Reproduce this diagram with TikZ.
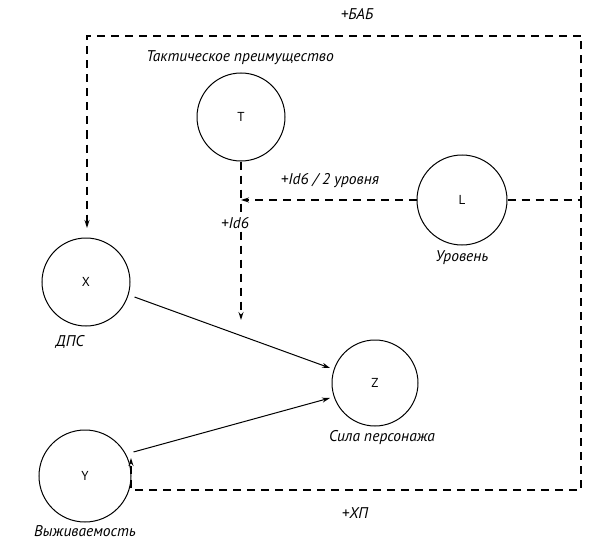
\documentclass[tikz,border=0pt]{standalone}
\usepackage{fontspec}
\setmainfont{PT Sans}
\usetikzlibrary{arrows.meta}
\tikzset{
  circ/.style={draw, circle, minimum size=88pt, inner sep=0pt, line width=1pt, font=\fontsize{13}{15}\selectfont},
  lbl/.style={font=\itshape\fontsize{15.5}{18}\selectfont, inner sep=1pt},
  dsh/.style={draw, line width=1.1pt, dash pattern=on 8pt off 6pt},
  arr/.style={-{Stealth[length=8pt,width=5pt]}},
  sol/.style={draw, line width=1pt}
}
\begin{document}
\begin{tikzpicture}[x=1pt,y=-1pt]
\useasboundingbox (0,0) rectangle (600,551);
\node[circ] (T) at (241,117) {T};
\node[circ, minimum size=90pt] (L) at (462,200) {L};
\node[circ] (X) at (86,282) {X};
\node[circ, minimum size=86pt] (Z) at (375,383) {Z};
\node[circ, minimum size=92pt] (Y) at (85,476) {Y};

\coordinate (cTL) at (87,36);
\coordinate (cTR) at (581,36);
\coordinate (cR) at (581,200);
\coordinate (cBR) at (581,490);
\coordinate (cBL) at (131,490);
\coordinate (yTip) at (131,458);
\coordinate (xTip) at (87,228);
\coordinate (jT) at (241,200);
\coordinate (tTip) at (241,320);

% dashed connectors
\draw[dsh, arr] (L.west) -- (jT);
\draw[dsh, arr] (T.south) -- (tTip);
\draw[dsh, arr] (L.east) -- (cR) -- (cTR) -- (cTL) -- (xTip);
\draw[dsh, arr] (cR) -- (cBR) -- (cBL) -- (yTip);

% solid connectors
\draw[sol, arr] (X.east) ++(4,15) coordinate (xs) (xs) -- (330,368) coordinate (ze1);
\draw[sol, arr] (Y.east) ++(2,-24) coordinate (ys) (ys) -- (330,398) coordinate (ze2);

% labels
\node[lbl] (lBAB) at (357,14) {+БАБ};
\node[lbl] (lT) at (240,58) {Тактическое преимущество};
\node[lbl] (lLT) at (330,181) {+Id6 / 2 уровня};
\node[lbl, fill=white] (lTZ) at (235,223) {+Id6};
\node[lbl] (lL) at (462,258) {Уровень};
\node[lbl] (lX) at (70,342) {ДПС};
\node[lbl] (lZ) at (382,438) {Сила персонажа};
\node[lbl] (lY) at (85,531) {Выживаемость};
\node[lbl] (lHP) at (355,513) {+ХП};
\end{tikzpicture}
\end{document}
